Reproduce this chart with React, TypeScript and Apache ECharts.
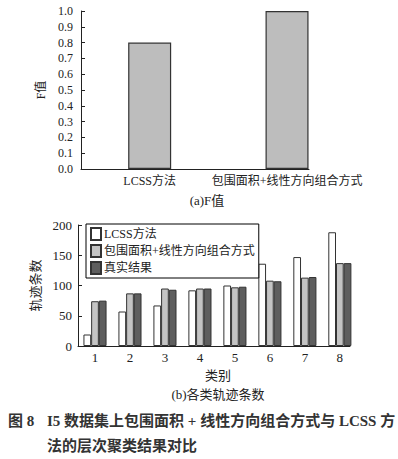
import React, { useEffect, useRef } from "react";
import * as echarts from "echarts";

const categoriesA = ["LCSS方法", "包围面积+线性方向组合方式"];
const fValues = [0.8, 1.0];

const classes = [1, 2, 3, 4, 5, 6, 7, 8];
const seriesNames = ["LCSS方法", "包围面积+线性方向组合方式", "真实结果"];
const lcssCounts = [19, 57, 67, 92, 100, 136, 147, 188];
const comboCounts = [74, 87, 95, 95, 97, 108, 113, 137];
const trueCounts = [75, 87, 93, 95, 98, 107, 114, 137];

const FONT = "'Liberation Serif', 'Noto Sans CJK SC', serif";
const INK = "#222";

export default function App() {
  const ref = useRef<HTMLDivElement>(null);
  useEffect(() => {
    if (!ref.current) return;
    const chart = echarts.init(ref.current, null, { renderer: "svg" });
    const barBorder = { borderColor: "#333", borderWidth: 1 };
    const mk = (vals: number[]) => vals.map((v, i) => [classes[i], v]);
    chart.setOption({
      animation: false,
      backgroundColor: "#fff",
      textStyle: { fontFamily: FONT, color: INK },
      grid: [
        { left: 81, top: 11, width: 228, height: 158 },
        { left: 78, top: 225, width: 272, height: 121 },
      ],
      xAxis: [
        {
          gridIndex: 0,
          type: "value",
          min: 0.5,
          max: 2.16,
          splitLine: { show: false },
          axisTick: { show: false },
          axisLine: { lineStyle: { color: INK, width: 1 } },
          axisLabel: {
            customValues: [1, 2],
            formatter: (v: number) => categoriesA[Math.round(v) - 1] ?? "",
            color: INK,
            fontSize: 12,
            fontFamily: FONT,
            margin: 6,
          },
        },
        {
          gridIndex: 1,
          type: "value",
          min: 0.514,
          max: 8.29,
          splitLine: { show: false },
          axisTick: { show: false },
          axisLine: { lineStyle: { color: INK, width: 1 } },
          axisLabel: {
            customValues: classes,
            formatter: (v: number) => String(Math.round(v)),
            color: INK,
            fontSize: 13,
            fontFamily: FONT,
            margin: 5,
          },
          name: "类别",
          nameLocation: "middle",
          nameGap: 23,
          nameTextStyle: { fontSize: 13, color: INK, fontFamily: FONT, padding: [0, 0, 0, 8] },
        },
      ],
      yAxis: [
        {
          gridIndex: 0,
          type: "value",
          min: 0,
          max: 1,
          interval: 0.1,
          splitLine: { show: false },
          axisLine: { show: true, lineStyle: { color: INK, width: 1 } },
          axisTick: { show: true, inside: true, length: 4, lineStyle: { color: INK } },
          axisLabel: {
            formatter: (v: number) => v.toFixed(1),
            color: INK,
            fontSize: 12,
            fontFamily: FONT,
            margin: 8,
          },
          name: "F值",
          nameLocation: "middle",
          nameGap: 26,
          nameTextStyle: { fontSize: 12, color: INK, fontFamily: FONT },
        },
        {
          gridIndex: 1,
          type: "value",
          min: 0,
          max: 200,
          interval: 50,
          splitLine: { show: false },
          axisLine: { show: true, lineStyle: { color: INK, width: 1 } },
          axisTick: { show: true, inside: true, length: 4, lineStyle: { color: INK } },
          axisLabel: { color: INK, fontSize: 13, fontFamily: FONT, margin: 6 },
          name: "轨迹条数",
          nameLocation: "middle",
          nameGap: 28,
          nameTextStyle: { fontSize: 13, color: INK, fontFamily: FONT },
        },
      ],
      legend: {
        data: seriesNames,
        orient: "vertical",
        left: 86,
        top: 224,
        padding: [3, 4, 3, 4],
        borderColor: "#000",
        borderWidth: 1,
        backgroundColor: "#fff",
        itemWidth: 10,
        itemHeight: 12,
        itemGap: 3,
        icon: "rect",
        textStyle: { fontSize: 12, color: INK, fontFamily: FONT, padding: [0, 0, 0, -2] },
      },
      series: [
        {
          name: "F值",
          type: "bar",
          xAxisIndex: 0,
          yAxisIndex: 0,
          barWidth: 43,
          data: fValues.map((v, i) => [i + 1, v]),
          itemStyle: { color: "#bdbdbd", borderColor: "#333", borderWidth: 1.2 },
        },
        {
          name: seriesNames[0],
          type: "bar",
          xAxisIndex: 1,
          yAxisIndex: 1,
          barWidth: 7.7,
          barGap: "0%",
          data: mk(lcssCounts),
          itemStyle: { color: "#ffffff", ...barBorder },
        },
        {
          name: seriesNames[1],
          type: "bar",
          xAxisIndex: 1,
          yAxisIndex: 1,
          barWidth: 7.7,
          barGap: "0%",
          data: mk(comboCounts),
          itemStyle: { color: "#c4c4c4", ...barBorder },
        },
        {
          name: seriesNames[2],
          type: "bar",
          xAxisIndex: 1,
          yAxisIndex: 1,
          barWidth: 7.7,
          barGap: "0%",
          data: mk(trueCounts),
          itemStyle: { color: "#5e5e5e", ...barBorder },
        },
      ],
      graphic: [
        {
          type: "text",
          x: 207,
          y: 200,
          style: {
            text: "(a)F值",
            fontSize: 13,
            fontFamily: FONT,
            fill: INK,
            align: "center",
            verticalAlign: "middle",
          },
        },
        {
          type: "text",
          x: 218,
          y: 394,
          style: {
            text: "(b)各类轨迹条数",
            fontSize: 13,
            fontFamily: FONT,
            fill: INK,
            align: "center",
            verticalAlign: "middle",
          },
        },
        {
          type: "text",
          x: 8,
          y: 421,
          style: {
            text: "图 8",
            fontSize: 15,
            fontWeight: "bold",
            fontFamily: FONT,
            fill: "#333",
            verticalAlign: "middle",
          },
        },
        {
          type: "text",
          x: 47,
          y: 421,
          style: {
            text: "I5 数据集上包围面积 + 线性方向组合方式与 LCSS 方",
            fontSize: 15,
            fontWeight: "bold",
            fontFamily: FONT,
            fill: "#333",
            verticalAlign: "middle",
          },
        },
        {
          type: "text",
          x: 47,
          y: 446,
          style: {
            text: "法的层次聚类结果对比",
            fontSize: 15,
            fontWeight: "bold",
            fontFamily: FONT,
            fill: "#333",
            verticalAlign: "middle",
          },
        },
      ],
    });
    return () => chart.dispose();
  }, []);
  return (
    <div
      ref={ref}
      style={{ position: "absolute", left: 0, top: 0, width: 398, height: 459 }}
    />
  );
}
